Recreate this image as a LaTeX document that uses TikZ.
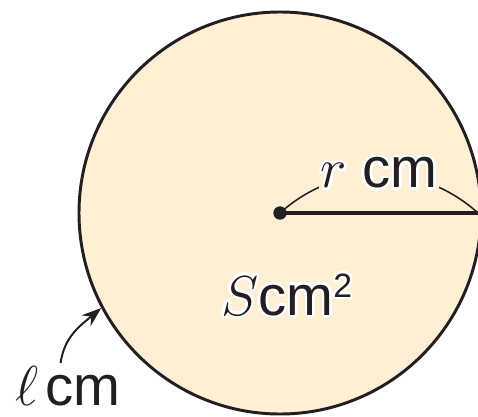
\RequirePackage{fix-cm}
\documentclass[tikz,border=0pt]{standalone}
\usepackage{fontspec}
\setsansfont{Liberation Sans}
\usepackage{contour}
\usetikzlibrary{arrows.meta}
\definecolor{diskfill}{HTML}{FFEFD5}
\definecolor{inkblack}{HTML}{231F20}
\contourlength{1.8pt}
\contournumber{16}

\begin{document}
\begin{tikzpicture}[x=0.25mm, y=0.25mm, >=Stealth,
    lbl/.style={inner sep=0pt, text=inkblack,
                font=\fontsize{40}{48}\selectfont\sffamily}]

    \useasboundingbox (0,0) rectangle (478,416);
    \clip (0,0) rectangle (478,416);

    % ── Disk ─────────────────────────────────────────────────────────────────
    \node[circle, draw=inkblack, fill=diskfill, line width=2.1pt,
          minimum size=100.5mm, inner sep=0pt] (disk) at (280,203) {};

    % ── Centre and radius ───────────────────────────────────────────────────
    \node[circle, fill=inkblack, minimum size=9.5pt, inner sep=0pt] (o) at (280,203) {};
    \coordinate (rend) at (478,203);
    \draw[line width=2.5pt, inkblack] (o.center) -- (rend);
    \draw[line width=1.1pt, inkblack] (o.center) to[bend left=42]
        node[lbl, fill=diskfill, inner sep=1pt] {\contour{white}{$r$ cm}} (rend);

    % ── Area ─────────────────────────────────────────────────────────────────
    \node[lbl, anchor=base west] (area) at (221,101)
        {\contour{white}{$S$cm\raisebox{12.5pt}{\fontsize{24}{24}\selectfont 2}}};

    % ── Circumference ───────────────────────────────────────────────────────
    \node[lbl, inner sep=2pt, anchor=base west] (circum) at (12,11)
        {$\ell$\hspace{5pt}cm};
    \draw[-{Stealth[length=14pt, width=10pt]}, line width=1.4pt, inkblack]
        ([xshift=-5pt]circum.north) to[out=82, in=220] (disk.208);

\end{tikzpicture}
\end{document}
